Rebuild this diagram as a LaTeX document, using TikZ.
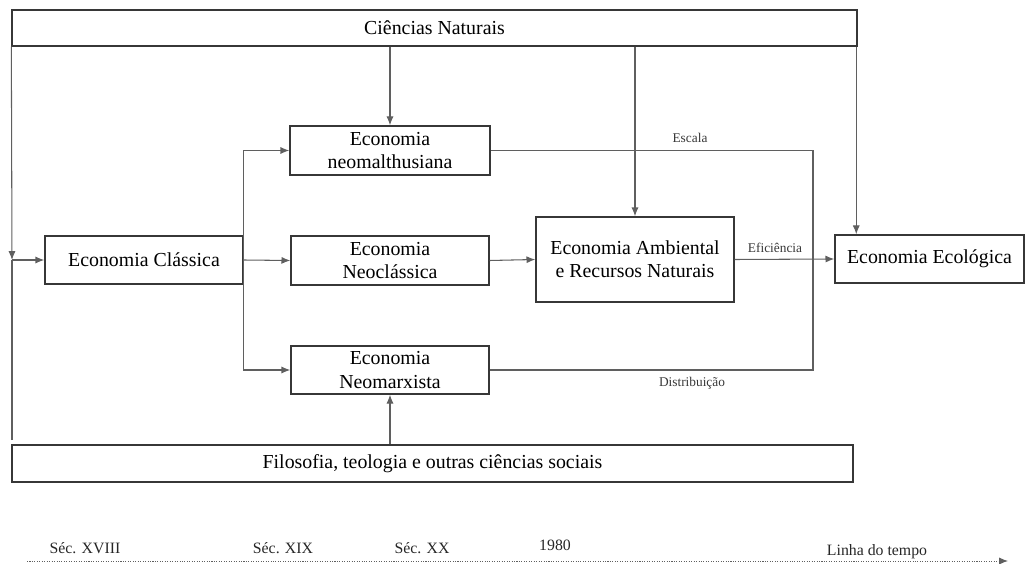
\documentclass[tikz,border=0pt]{standalone}
\usepackage{fontspec}
\setmainfont{Liberation Serif}
\usepackage{tikz}
\usetikzlibrary{positioning}
\usetikzlibrary{arrows.meta}
\definecolor{linegray}{RGB}{95,95,95}
\definecolor{boxgray}{RGB}{55,55,55}

\begin{document}
\begin{tikzpicture}[x=0.02cm,y=-0.02cm]
	\useasboundingbox (0,0) rectangle (1028,564);

	\begin{scope}[every node/.style={draw=boxgray,line width=0.85pt,align=center,inner sep=1pt,
	              font=\fontsize{11.3}{13.2}\selectfont}]
	    \node[minimum width=16.9cm,minimum height=0.72cm] (nat) at (434.5,28) {Ciências Naturais};
	    \node[minimum width=3.96cm,minimum height=0.96cm] (classica) at (144,260) {Economia Clássica};
	    \node[minimum width=4cm,minimum height=0.98cm] (malthus) at (390,150.5) {Economia\\neomalthusiana};
	    \node[minimum width=3.96cm,minimum height=0.98cm] (neocl) at (390,260.5) {Economia\\Neoclássica};
	    \node[minimum width=3.96cm,minimum height=0.96cm] (marx) at (390,370) {Economia\\Neomarxista};
	    \node[minimum width=3.96cm,minimum height=1.7cm] (amb) at (635,259.5) {Economia Ambiental\\e Recursos Naturais};
	    \node[minimum width=3.78cm,minimum height=0.96cm] (eco) at (929.5,259) {Economia Ecológica};
	    \node[minimum width=16.82cm,minimum height=0.74cm] (filo) at (432.5,463.5) {Filosofia, teologia e outras ciências sociais};
	\end{scope}

	\coordinate (left) at (12,260);
	\coordinate (leftlow) at (12,440);
	\coordinate (join) at (813,260);
	\coordinate (ecoin) at ([xshift=0.44cm]eco.north west);

	\begin{scope}[>={Latex[length=5pt,width=4pt]},
	              every path/.style={draw=linegray,line width=0.6pt},
	              lbl/.style={text=boxgray,font=\fontsize{7.6}{9}\selectfont}]
    	\draw [->] (nat.south west) -- (left);
    	\draw (leftlow) -- (left);
    	\draw [->] (left) -- (classica.west);
    	\draw [->] (classica.east) |- (malthus.west);
    	\draw [->] (classica.east) -- (neocl.west);
    	\draw [->] (classica.east) |- (marx.west);
    	\draw [->] (neocl.east) -- (amb.west);
    	\draw [->] (amb.east) -- (eco.west);
    	\draw (malthus.east) -| (join);
    	\draw (marx.east) -| (join);
    	\draw [->] (malthus.north |- nat.south) -- (malthus.north);
    	\draw [->] (amb.north |- nat.south) -- (amb.north);
    	\draw [->] (ecoin |- nat.south) -- (ecoin);
    	\draw [->] (marx.south |- filo.north) -- (marx.south);
    	\node[lbl] (escala) at (690,138) {Escala};
    	\node[lbl] (efic) at (775,248) {Eficiência};
    	\node[lbl] (distr) at (692,383) {Distribuição};
	\end{scope}

	% linha do tempo
	\coordinate (t0) at (27,561);
	\coordinate (t1) at (1008,561);
	\draw [draw=linegray,line width=0.5pt,dash pattern=on 0.6pt off 0.8pt,-{Latex[length=5pt,width=4pt]}] (t0) -- (t1);
	\begin{scope}[every node/.style={anchor=base,font=\fontsize{9}{11}\selectfont,text=black!85}]
	    \node (s18) at (85,553) {Séc. XVIII};
	    \node (s19) at (283,553) {Séc. XIX};
	    \node (s20) at (422,553) {Séc. XX};
	    \node (y80) at (555,550) {1980};
	    \node (linha) at (877,555) {Linha do tempo};
	\end{scope}
\end{tikzpicture}
\end{document}
